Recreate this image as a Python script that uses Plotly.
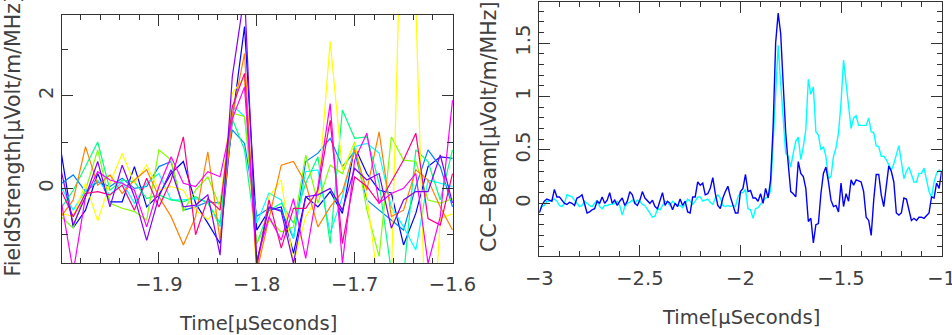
import plotly.graph_objects as go

W, H = 952, 335

# ---------------- Left panel: field strength per antenna ----------------
left_t0 = -2.0
left_dt = 0.0125

ant_blue = [0.8, -0.85, -0.47, 0.32, -0.29, -0.29, 0.47, -0.4, -0.14, 0.32, 0.58, -0.32, -0.75, -1.19, 1.47, 3.49,
            -0.9, -0.47, -0.4, -1.4, -0.18, -0.4, -0.07, -0.54, 0.9, 0.32, -0.04, -0.1, -1.22, -0.54, 0.47, 0.68, 0.65]
ant_azure = [0.1, 0.29, -0.07, 0.14, 0.04, 0.22, 0.0, 0.04, 0.47, 0.58, -0.47, -0.4, -0.29, -0.32, 1.26, 0.97,
             -0.6, -0.43, -0.47, -1.08, 0.58, 0.76, 1.08, 0.47, 0.79, -0.25, -0.47, -0.68, -0.9, 0.04, 0.83, 0.47, -0.4]
ant_cyan = [0.04, -0.47, -0.04, 0.18, -0.14, 0.14, -0.32, 0.11, 0.32, -0.25, -0.25, -0.22, -0.29, -0.83, 1.8, 1.55,
            -0.75, -0.1, -0.25, -1.08, 0.36, 0.4, -0.97, -0.18, 0.9, 0.97, 0.76, -0.4, -0.83, -1.33, 0.18, 0.11, 0.04]
ant_springgreen = [-0.43, -0.04, 0.47, 1.0, -0.04, 0.18, 0.14, -0.22, -0.14, -0.25, -0.29, -0.18, -0.32, -0.75, 1.5, 0.83,
                   -1.19, -0.47, -0.32, -0.75, 0.11, 0.68, -1.19, 1.69, 1.08, 1.11, 0.11, -1.8, -1.9, 0.83, 0.58, -0.25, 0.83]
ant_chartreuse = [-0.61, -0.86, -0.04, 0.83, -0.32, -0.43, -0.5, -0.68, 0.83, 0.61, -0.5, -0.04, 0.25, -0.4, 1.62, 1.55,
                  -1.19, -0.68, -0.94, -0.83, 0.72, -0.32, 0.5, 0.32, 1.0, -0.47, -1.47, 1.11, 0.61, 0.58, -0.25, -0.32, -0.22]
ant_yellow = [-0.54, -0.61, 0.11, -0.7, 0.11, 0.75, 0.11, 0.5, -0.04, 0.04, -0.04, -0.47, -0.67, -0.4, 2.05, 2.4,
              -1.9, -0.18, 0.18, -1.62, -0.61, -0.18, 3.17, 0.4, 0.97, -0.18, -2.2, -2.0, 8.0, 4.0, -5.0, -0.65, -0.55]
ant_orange = [-0.61, -0.25, 0.9, 0.07, 0.29, -0.11, 0.18, 0.4, -0.18, -0.61, -1.22, -0.61, 0.79, -1.12, 1.55, 2.91,
              -1.8, -0.68, 0.5, 0.58, 0.11, -0.83, -0.4, -0.07, 0.83, -0.04, 1.22, -0.61, -0.47, 0.4, 0.18, -0.4, -0.9]
ant_rose = [-0.04, -0.61, -0.11, -0.07, -0.14, 0.07, -0.47, 0.22, -0.4, 0.18, 1.11, -1.0, -0.22, -0.47, 1.76, 2.48,
            -1.7, -0.25, -1.29, -0.43, -0.43, -0.04, 1.47, -1.19, 0.25, 0.04, -0.32, 0.14, 0.61, 1.19, -0.65, -0.79, 0.32]
ant_magenta = [-0.25, -1.8, -0.18, 0.36, 0.18, 0.11, -0.04, -0.83, 0.04, 0.68, 0.11, 0.04, 0.36, 0.25, 1.5, 2.19,
               -1.55, -0.61, -1.12, -0.22, -1.51, 0.04, 1.83, -1.62, 0.61, 1.19, -0.32, -0.11, 0.0, 0.32, -1.62, -0.61, 1.9]
ant_violet = [0.4, -0.79, -0.18, 0.58, -0.4, 0.5, -0.18, -1.12, -0.18, 0.4, -0.4, -0.36, -0.14, -1.44, 2.41, 4.2,
              -1.6, -0.4, -0.5, -1.62, -0.18, -0.14, 0.0, -0.47, 0.43, 0.18, 0.32, -0.86, -0.25, -0.07, -0.07, 0.72, -0.32]

left_series = [ant_blue, ant_azure, ant_cyan, ant_springgreen, ant_chartreuse,
               ant_yellow, ant_orange, ant_rose, ant_magenta, ant_violet]
left_colors = ["#0000ff", "#0080ff", "#00ffff", "#00ff80", "#80ff00",
               "#ffff00", "#ff8000", "#ff0080", "#ff00ff", "#8000ff"]

# ---------------- Right panel: CC-beam ----------------
right_t0 = -3.0
right_dt = 0.0125

beam_blue = [-0.09, -0.02, 0.02, 0.04, 0.03, 0.02, 0.13, 0.06, 0.06, 0.03,
             0.0, -0.01, 0.01, 0.0, -0.02, 0.05, 0.06, 0.08, -0.02, -0.09,
             -0.08, -0.06, -0.05, 0.02, 0.0, 0.06, 0.0, 0.03, 0.1, 0.0,
             0.03, -0.02, 0.02, 0.05, -0.02, 0.02, 0.11, 0.08, 0.0, -0.02,
             0.03, 0.11, 0.05, 0.02, 0.0, 0.03, -0.03, -0.05, 0.02, 0.1,
             -0.02, 0.02, 0.0, -0.06, 0.0, -0.03, 0.04, -0.02, 0.02, -0.08,
             -0.09, 0.06, 0.06, 0.2, 0.17, 0.19, 0.08, 0.09, 0.14, 0.24,
             0.09, -0.02, -0.05, 0.05, 0.11, 0.16, 0.06, -0.02, -0.09, -0.09,
             0.11, 0.14, 0.27, 0.11, 0.12, 0.05, 0.05, 0.02, 0.09, 0.0,
             0.14, 0.05, 0.22, 0.72, 1.5, 1.78, 1.59, 1.12, 0.66, 0.37,
             0.11, 0.09, 0.06, 0.39, 0.28, 0.25, 0.14, -0.17, -0.14, -0.37,
             -0.2, -0.19, 0.09, 0.28, 0.34, 0.2, 0.03, -0.03, -0.02, -0.08,
             0.19, -0.03, 0.09, 0.02, 0.22, 0.17, 0.22, 0.21, 0.2, 0.11,
             -0.13, -0.16, -0.3, 0.03, 0.27, 0.27, 0.08, -0.03, 0.16, 0.35,
             0.3, 0.2, -0.09, -0.11, -0.09, 0.05, 0.04, -0.06, -0.16, -0.14,
             -0.16, -0.13, -0.13, -0.14, -0.11, -0.09, 0.06, 0.05, 0.19, 0.14,
             0.3]
beam_cyan = [-0.08, -0.03, -0.02, 0.02, 0.02, 0.03, 0.04, 0.02, -0.02, -0.03,
             0.0, 0.08, 0.07, 0.06, 0.03, 0.0, -0.03, -0.02, 0.02, 0.0,
             -0.02, -0.03, 0.0, 0.03, -0.03, -0.05, -0.02, -0.02, -0.01, -0.01,
             0.0, 0.02, -0.02, -0.11, -0.03, 0.0, 0.01, 0.03, 0.0, 0.03,
             0.02, -0.01, -0.02, -0.06, -0.09, -0.13, -0.12, -0.05, -0.06, -0.02,
             0.02, 0.01, -0.02, 0.02, 0.0, -0.02, -0.02, -0.04, 0.0, 0.04,
             0.02, -0.01, 0.02, 0.06, 0.06, 0.02, 0.03, 0.04, 0.01, -0.01,
             0.05, 0.08, 0.05, -0.02, -0.03, -0.02, -0.03, -0.02, -0.03, 0.06,
             0.1, 0.1, 0.13, -0.05, -0.06, -0.14, -0.05, -0.04, -0.01, 0.03,
             0.05, 0.06, 0.12, 0.59, 1.12, 1.48, 1.12, 0.78, 0.47, 0.44,
             0.34, 0.47, 0.58, 0.62, 0.41, 0.53, 0.69, 1.16, 1.02, 1.09,
             0.67, 0.64, 0.5, 0.53, 0.44, 0.23, 0.25, 0.44, 0.52, 0.66,
             0.94, 1.34, 1.11, 0.94, 0.7, 0.8, 0.82, 0.73, 0.73, 0.73,
             0.73, 0.8, 0.67, 0.66, 0.54, 0.53, 0.44, 0.44, 0.41, 0.36,
             0.31, 0.37, 0.47, 0.54, 0.39, 0.23, 0.3, 0.34, 0.27, 0.2,
             0.2, 0.28, 0.28, 0.33, 0.22, 0.11, 0.06, 0.2, 0.28, 0.31,
             0.3]

FONT = "DejaVu Sans, Liberation Sans, sans-serif"
TXT = "#404040"
AX = "#333333"

fig = go.Figure()

for vals, col in zip(left_series, left_colors):
    xs = [left_t0 + i * left_dt for i in range(len(vals))]
    fig.add_trace(go.Scatter(x=xs, y=vals, mode="lines", line=dict(color=col, width=1.2),
                             xaxis="x", yaxis="y", hoverinfo="skip"))

for vals, col in [(beam_cyan, "#00ffff"), (beam_blue, "#0000ff")]:
    xs = [right_t0 + i * right_dt for i in range(len(vals))]
    fig.add_trace(go.Scatter(x=xs, y=vals, mode="lines", line=dict(color=col, width=1.4),
                             xaxis="x2", yaxis="y2", hoverinfo="skip"))

common = dict(showgrid=False, zeroline=False, showline=True, linecolor=AX, linewidth=1.3,
              mirror="allticks", ticks="inside", tickcolor=AX, tickwidth=1.2, automargin=False,
              ticklabeloverflow="allow",
              tickfont=dict(family=FONT, size=19.5, color=TXT))

fig.update_layout(
    width=W, height=H, margin=dict(l=0, r=0, t=0, b=0, autoexpand=False),
    paper_bgcolor="white", plot_bgcolor="white", showlegend=False,
    xaxis=dict(domain=[62 / W, 453 / W], range=[-1.999, -1.5995], anchor="y",
               dtick=0.1, tick0=0, ticklen=11, ticklabelstandoff=3,
               minor=dict(dtick=0.02, ticklen=5, ticks="inside", tickcolor=AX, tickwidth=1.1),
               **common),
    yaxis=dict(domain=[1 - 263 / H, 1 - 15 / H], range=[-1.61, 3.74], anchor="x",
               dtick=2, tick0=0, ticklen=11, tickangle=-90,
               minor=dict(dtick=1, ticklen=6, ticks="inside", tickcolor=AX, tickwidth=1.1),
               **common),
    xaxis2=dict(domain=[539.3 / W, 941.7 / W], range=[-3.0, -0.9995], anchor="y2",
                dtick=0.5, tick0=0, ticklen=11, ticklabelstandoff=5,
                minor=dict(dtick=0.1, ticklen=5, ticks="inside", tickcolor=AX, tickwidth=1.1),
                **common),
    yaxis2=dict(domain=[1 - 255.7 / H, 1 - 1.7 / H], range=[-0.49, 1.887], anchor="x2",
                dtick=0.5, tick0=0, ticklen=11, tickangle=-90,
                minor=dict(dtick=0.1, ticklen=5, ticks="inside", tickcolor=AX, tickwidth=1.1),
                **common),
)

xt_font = dict(family=FONT, size=19.5, color=TXT)
yt_font = dict(family=FONT, size=20.5, color=TXT)
fig.add_annotation(text="Time[μSeconds]", xref="paper", yref="paper", x=257.5 / W, y=1 - 323 / H,
                   xanchor="center", yanchor="middle", showarrow=False, font=xt_font)
fig.add_annotation(text="Time[μSeconds]", xref="paper", yref="paper", x=740.5 / W, y=1 - 317 / H,
                   xanchor="center", yanchor="middle", showarrow=False, font=xt_font)
fig.add_annotation(text="FieldStrength[μVolt/m/MHz]", xref="paper", yref="paper", x=12.5 / W, y=1 - 136 / H,
                   xanchor="center", yanchor="middle", textangle=-90, showarrow=False, font=yt_font)
fig.add_annotation(text="CC−Beam[μVolt/m/MHz]", xref="paper", yref="paper", x=489 / W, y=1 - 127 / H,
                   xanchor="center", yanchor="middle", textangle=-90, showarrow=False, font=yt_font)

fig.write_html("out.html", config={"displayModeBar": False},
               post_script="document.body.style.margin='0px';")
